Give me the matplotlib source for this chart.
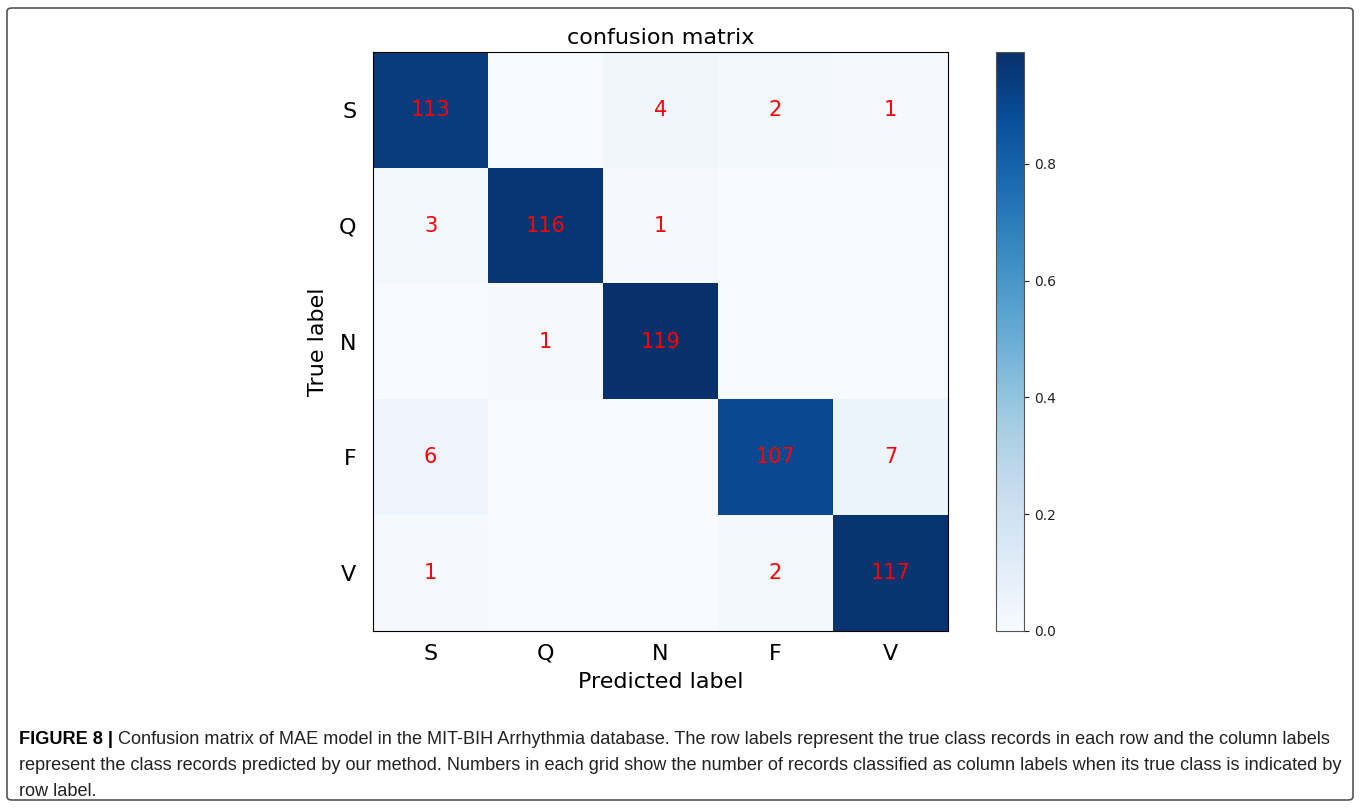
import numpy as np
import matplotlib.pyplot as plt
from matplotlib.patches import FancyBboxPatch
from matplotlib import font_manager

classes = ["S", "Q", "N", "F", "V"]
counts = np.array([
    [113, 0, 4, 2, 1],
    [3, 116, 1, 0, 0],
    [0, 1, 119, 0, 0],
    [6, 0, 0, 107, 7],
    [1, 0, 0, 2, 117],
])
caption_bold = "FIGURE 8 | "
caption_lines = [
    "Confusion matrix of MAE model in the MIT-BIH Arrhythmia database. The row labels represent the true class records in each row and the column labels",
    "represent the class records predicted by our method. Numbers in each grid show the number of records classified as column labels when its true class is indicated by",
    "row label.",
]

norm = counts / counts.sum(axis=1, keepdims=True)

fig = plt.figure(figsize=(13.6, 8.08), dpi=100)

# marco exterior
frame = FancyBboxPatch((7 / 1360, 8 / 808), 1346 / 1360, 792 / 808,
                       boxstyle="round,pad=0,rounding_size=0.004",
                       transform=fig.transFigure, fill=False,
                       edgecolor="#555555", linewidth=1.2)
fig.patches.append(frame)

ax = fig.add_axes([373 / 1360, 1 - 631 / 808, 575 / 1360, 579 / 808])
im = ax.imshow(norm, cmap="Blues", vmin=0, vmax=norm.max(), aspect="auto")
ax.set_title("confusion matrix", fontsize=16)
ax.set_xticks(range(len(classes)))
ax.set_yticks(range(len(classes)))
ax.set_xticklabels(classes, fontsize=16)
ax.set_yticklabels(classes, fontsize=16)
ax.tick_params(axis="y", length=0, pad=12)
ax.tick_params(axis="x", length=0, pad=9)
ax.set_xlabel("Predicted label", fontsize=16, labelpad=6)
ax.set_ylabel("True label", fontsize=16, labelpad=8)

for i in range(counts.shape[0]):
    for j in range(counts.shape[1]):
        if counts[i, j] > 0:
            ax.text(j, i, str(counts[i, j]), ha="center", va="center",
                    color="red", fontsize=15)

cax = fig.add_axes([996 / 1360, 1 - 631 / 808, 28 / 1360, 579 / 808])
cb = fig.colorbar(im, cax=cax)
cb.set_ticks([0.0, 0.2, 0.4, 0.6, 0.8])
cb.ax.tick_params(labelsize=10, colors="#222222")
cb.outline.set_edgecolor("#555555")

# pie de figura: ajustar tamaño para que la primera línea ocupe el ancho
cap_font = ["Liberation Sans Narrow", "Liberation Sans", "DejaVu Sans"]
avail = [f.name for f in font_manager.fontManager.ttflist]
cap_font = [f for f in cap_font if f in avail] or ["DejaVu Sans"]
x0 = 19
target = 1330 - x0
renderer = fig.canvas.get_renderer()

size = 13.0
tb = fig.text(0, 0, caption_bold, fontsize=size, fontweight="bold", family=cap_font)
tr = fig.text(0, 0, caption_lines[0], fontsize=size, family=cap_font)
w = tb.get_window_extent(renderer).width + tr.get_window_extent(renderer).width
tb.remove()
tr.remove()
size = size * target / w

ys = [740, 766, 792]
tb = fig.text(x0 / 1360, 1 - ys[0] / 808, caption_bold, fontsize=size,
              fontweight="bold", family=cap_font, va="center")
wb = tb.get_window_extent(renderer).width
fig.text((x0 + wb) / 1360, 1 - ys[0] / 808, caption_lines[0], fontsize=size,
         family=cap_font, va="center", color="#222222")
for line, y in zip(caption_lines[1:], ys[1:]):
    fig.text(x0 / 1360, 1 - y / 808, line, fontsize=size, family=cap_font,
             va="center", color="#222222")

fig.savefig("out.png", dpi=100)
